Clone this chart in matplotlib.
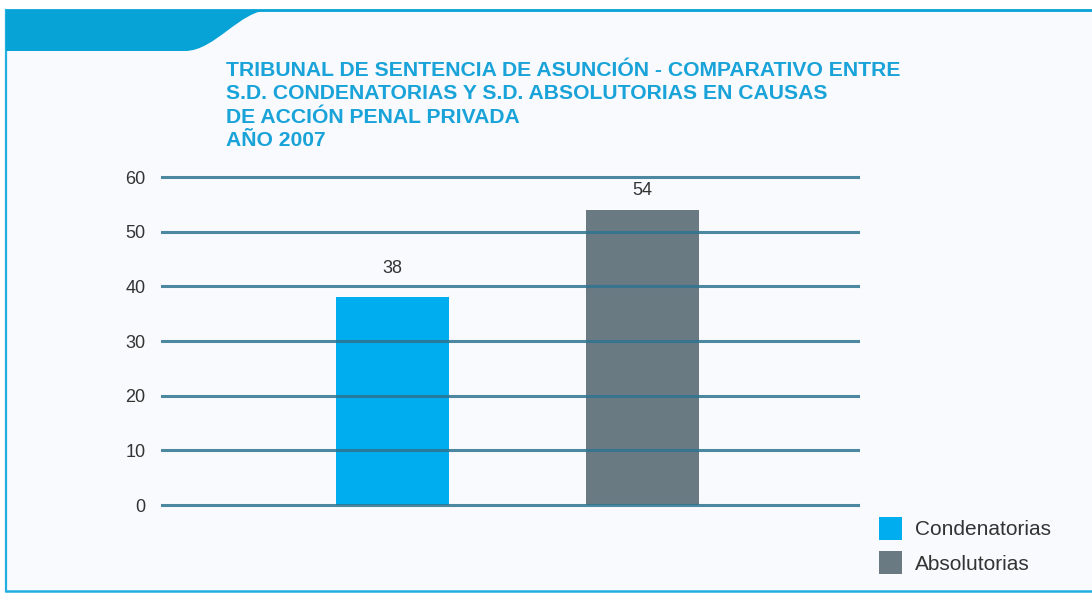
import matplotlib
matplotlib.use("Agg")
import matplotlib.pyplot as plt
from matplotlib.path import Path
from matplotlib.patches import PathPatch, Rectangle, Patch
from matplotlib.lines import Line2D

categories = ["Condenatorias", "Absolutorias"]
values = [38, 54]
yticks = [0, 10, 20, 30, 40, 50, 60]
title_lines = [
    "TRIBUNAL DE SENTENCIA DE ASUNCIÓN - COMPARATIVO ENTRE",
    "S.D. CONDENATORIAS Y S.D. ABSOLUTORIAS EN CAUSAS",
    "DE ACCIÓN PENAL PRIVADA",
    "AÑO 2007",
]
colors = ["#00aeef", "#6a7a83"]

W, H = 1092, 594
fig = plt.figure(figsize=(W / 100, H / 100), dpi=100, facecolor="white")
plt.rcParams["font.family"] = ["Liberation Sans", "DejaVu Sans"]

def fx(x):
    return x / W

def fy(y):
    return 1 - y / H

blue = "#07a2d6"

# panel background
fig.patches.append(Rectangle((fx(6), fy(591)), fx(W - 6), (591 - 10) / H,
                             transform=fig.transFigure, facecolor="#f8fafd",
                             edgecolor="none", zorder=-10))
# banner shape
verts = [(6, 10), (270, 10), (240, 10), (215, 51), (185, 51), (6, 51), (6, 10)]
codes = [Path.MOVETO, Path.LINETO, Path.CURVE4, Path.CURVE4, Path.CURVE4,
         Path.LINETO, Path.CLOSEPOLY]
path = Path([(fx(x), fy(y)) for x, y in verts], codes)
fig.patches.append(PathPatch(path, transform=fig.transFigure, facecolor=blue,
                             edgecolor="none", zorder=-5))
# border lines
fig.lines.append(Line2D([fx(6), fx(W)], [fy(10), fy(10)], transform=fig.transFigure,
                        color=blue, lw=2, zorder=-5))
fig.lines.append(Line2D([fx(6), fx(6)], [fy(10), fy(591)], transform=fig.transFigure,
                        color="#22aee0", lw=1.6, zorder=-5))
fig.lines.append(Line2D([fx(6), fx(W)], [fy(591), fy(591)], transform=fig.transFigure,
                        color="#22aee0", lw=1.8, zorder=-5))

# title
for i, line in enumerate(title_lines):
    fig.text(fx(226), fy(70.5 + i * 23.3), line, ha="left", va="center",
             fontsize=15.2, fontweight="bold", color="#19a3d8")

# axes
ax = fig.add_axes([fx(162), fy(505), (858 - 162) / W, (505 - 177) / H])
ax.set_facecolor("none")
x = list(range(len(categories)))
bars = ax.bar(x, values, width=0.452, color=colors, zorder=2)
ax.set_xlim(-0.922, 1.862)
ax.set_ylim(0, 60)
for t in yticks:
    ax.axhline(t, color="#2e7490", lw=2.2, alpha=0.85, zorder=3, clip_on=False)
ax.set_yticks(yticks)
ax.set_yticklabels([str(t) for t in yticks], fontsize=13, color="#333333")
ax.tick_params(axis="y", length=0, pad=12)
ax.set_xticks([])
for s in ax.spines.values():
    s.set_visible(False)
label_offsets = [21, 14]
for b, v, off in zip(bars, values, label_offsets):
    ax.annotate(str(v), (b.get_x() + b.get_width() / 2, v), xytext=(0, off),
                textcoords="offset points", ha="center", va="center",
                fontsize=13, color="#333333")

handles = [Patch(facecolor=c, edgecolor="none") for c in colors]
fig.legend(handles, categories, loc="upper left",
           bbox_to_anchor=(fx(879), fy(517)), bbox_transform=fig.transFigure,
           frameon=False, fontsize=15, handlelength=1.09, handleheight=1.30,
           handletextpad=0.62, labelspacing=0.55, borderpad=0, borderaxespad=0,
           labelcolor="#333333")

fig.savefig("out.png", dpi=100, facecolor="white")
